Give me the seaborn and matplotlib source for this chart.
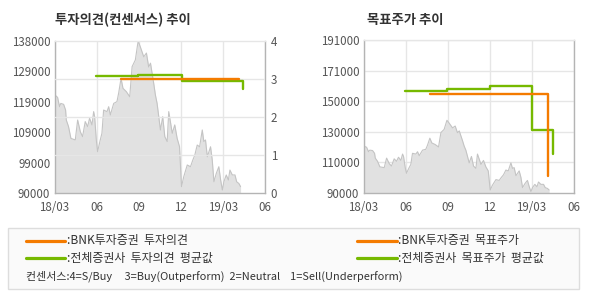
import numpy as np
import pandas as pd
import seaborn as sns
import matplotlib
matplotlib.use("Agg")
import matplotlib.pyplot as plt
from matplotlib.lines import Line2D
from matplotlib.patches import Rectangle

# ---------------- data ----------------
tick_pos = [0, 3, 6, 9, 12, 15]
tick_labels = ["18/03", "06", "09", "12", "19/03", "06"]

# months since 2018-03 and closing price (read from the grey area)
price_month = [0.03, 0.22, 0.36, 0.45, 0.65, 0.79, 0.84, 1.00, 1.17, 1.48, 1.65, 1.84, 2.00,
               2.19, 2.36, 2.50, 2.67, 2.79, 2.86, 2.98, 3.07, 3.26, 3.38, 3.50, 3.74, 3.86,
               3.98, 4.22, 4.45, 4.57, 4.74, 4.88, 5.12, 5.36, 5.53, 5.76, 5.96, 6.12, 6.36,
               6.55, 6.71, 6.84, 7.07, 7.19, 7.31, 7.43, 7.55, 7.71, 7.86, 8.03, 8.14, 8.26,
               8.39, 8.57, 8.74, 8.91, 9.05, 9.21, 9.46, 9.69, 9.86, 10.00, 10.17, 10.34,
               10.53, 10.64, 10.76, 10.89, 11.12, 11.24, 11.36, 11.53, 11.71, 11.84, 11.96,
               12.07, 12.24, 12.39, 12.50, 12.67, 12.86, 12.98, 13.14, 13.26]
price_value = [120950, 120200, 117250, 118300, 118000, 116200, 113050, 110950, 107250, 106750,
               113050, 109350, 107800, 112550, 110950, 113600, 111500, 115700, 114100, 106750,
               103050, 106750, 108850, 116200, 115700, 117250, 114650, 118300, 118850, 121500,
               126200, 123050, 122000, 120400, 129900, 132000, 138000, 136100, 133000, 134200,
               129800, 131000, 124600, 120950, 118300, 114100, 109900, 114100, 107800, 106250,
               115700, 112500, 108850, 111500, 107250, 104600, 92000, 95150, 98850, 98300,
               100450, 102000, 105150, 104600, 109900, 106250, 106750, 101450, 104600, 100450,
               93550, 96200, 98300, 94100, 90950, 93550, 95700, 94100, 97250, 95700, 95700,
               93550, 93000, 92000]

# consensus (opinion) step series: 4=S/Buy 3=Buy 2=Neutral 1=Sell
op_bnk_month = [4.76, 13.17]
op_bnk_value = [3.0, 3.0]
op_avg_month = [2.95, 5.95, 9.05, 13.45]
op_avg_value = [3.08, 3.11, 2.94, 2.75]

# target price step series
tp_bnk_month = [4.76, 13.17]
tp_bnk_value = [155500, 101000]
tp_avg_month = [2.93, 5.95, 9.05, 12.0, 13.5]
tp_avg_value = [157500, 158500, 160500, 131700, 116000]

left_ticks = [90000, 99000, 109000, 119000, 129000, 138000]
right_ticks = [90000, 110000, 130000, 150000, 171000, 191000]
op_ticks = [0, 1, 2, 3, 4]

titles = ["투자의견(컨센서스) 추이", "목표주가 추이"]
legend_labels = [":BNK투자증권  투자의견", ":전체증권사  투자의견  평균값",
                 ":BNK투자증권  목표주가", ":전체증권사  목표주가  평균값"]
consensus_note = "컨센서스:4=S/Buy     3=Buy(Outperform)  2=Neutral    1=Sell(Underperform)"

# ---------------- style ----------------
sns.set_theme(style="white")
FONT = ["Noto Sans CJK KR", "DejaVu Sans"]
plt.rcParams["font.family"] = FONT

ORANGE = "#f47b00"
GREEN = "#76b900"
FILL = "#e1e1e1"
EDGE = "#c4c4c4"
GRID = "#e6e6e6"
SPINE = "#b4b4b4"
TXT = "#555555"

W, H = 590, 300
fig = plt.figure(figsize=(W / 100, H / 100), dpi=100)
fig.patch.set_facecolor("white")

def fx(px):
    return px / W

def fy(py):
    return 1 - py / H

price_df = pd.DataFrame({"month": price_month, "price": price_value})


def base_axes(rect, ymin, ymax):
    ax = fig.add_axes(rect)
    ax.set_xlim(0, 15)
    ax.set_ylim(ymin, ymax)
    ax.fill_between(price_df["month"], ymin, price_df["price"], color=FILL, lw=0, zorder=1)
    sns.lineplot(data=price_df, x="month", y="price", ax=ax, color=EDGE, lw=0.8, zorder=2)
    for xv in tick_pos:
        ax.axvline(xv, color=GRID, lw=1.0, zorder=0.5)
    ax.set_xticks(tick_pos)
    ax.set_xticklabels(tick_labels)
    ax.set_xlabel("")
    ax.set_ylabel("")
    for s in ax.spines.values():
        s.set_color(SPINE)
        s.set_linewidth(1.0)
    ax.spines["top"].set_color(GRID)
    ax.tick_params(axis="both", length=0, labelsize=8.3, colors=TXT)
    ax.tick_params(axis="y", pad=3)
    ax.tick_params(axis="x", pad=6)
    return ax

# ---- left chart ----
axL = base_axes([fx(54.5), fy(193), fx(210.5), (193 - 41) / H], 90000, 138000)
axL.set_yticks(np.linspace(90000, 138000, 6))
axL.set_yticklabels([str(v) for v in left_ticks])
axR = axL.twinx()
axR.set_ylim(0, 4)
axR.set_yticks(op_ticks)
for yv in op_ticks[1:4]:
    axR.axhline(yv, color=GRID, lw=1.0, zorder=0.5)
axL.set_zorder(0)
axR.set_zorder(1)
axR.patch.set_visible(False)
sns.lineplot(x=op_avg_month, y=op_avg_value, ax=axR, color=GREEN, lw=1.7, drawstyle="steps-post")
sns.lineplot(x=op_bnk_month, y=op_bnk_value, ax=axR, color=ORANGE, lw=1.7, drawstyle="steps-post")
axR.tick_params(axis="y", length=0, pad=4, labelsize=8.3, colors=TXT)
for s in axR.spines.values():
    s.set_visible(False)
axR.set_ylabel("")

# ---- right chart ----
axT = base_axes([fx(363.5), fy(193), fx(210), (193 - 40) / H], 90000, 191000)
yt = np.linspace(90000, 191000, 6)
axT.set_yticks(yt)
axT.set_yticklabels([str(v) for v in right_ticks])
for yv in yt[1:]:
    axT.axhline(yv, color=GRID, lw=1.0, zorder=0.5)
sns.lineplot(x=tp_avg_month, y=tp_avg_value, ax=axT, color=GREEN, lw=1.7, drawstyle="steps-post", zorder=4)
sns.lineplot(x=tp_bnk_month, y=tp_bnk_value, ax=axT, color=ORANGE, lw=1.7, drawstyle="steps-post", zorder=5)
axT.set_ylabel("")

# titles
fig.text(fx(55), fy(20), titles[0], fontsize=9.6, fontweight="bold", color="#333333", va="center", ha="left")
fig.text(fx(367), fy(20), titles[1], fontsize=9.6, fontweight="bold", color="#333333", va="center", ha="left")

# ---- legend box ----
fig.add_artist(Rectangle((fx(7.5), fy(289)), fx(571.5), (289 - 228) / H, transform=fig.transFigure,
                         facecolor="#fafafa", edgecolor="#dddddd", lw=1.0))
rows = [(fy(240.5), ORANGE), (fy(258), GREEN)]
for i, (yy, col) in enumerate(rows):
    fig.add_artist(Line2D([fx(26), fx(65)], [yy, yy], transform=fig.transFigure, color=col, lw=2.3))
    fig.text(fx(67), yy, legend_labels[i], fontsize=8.6, color="#333333", va="center", ha="left")
    fig.add_artist(Line2D([fx(357), fx(397)], [yy, yy], transform=fig.transFigure, color=col, lw=2.3))
    fig.text(fx(398), yy, legend_labels[i + 2], fontsize=8.6, color="#333333", va="center", ha="left")
fig.text(fx(26), fy(276), consensus_note, fontsize=7.9, color="#333333", va="center", ha="left")

fig.savefig("out.png", dpi=100)
